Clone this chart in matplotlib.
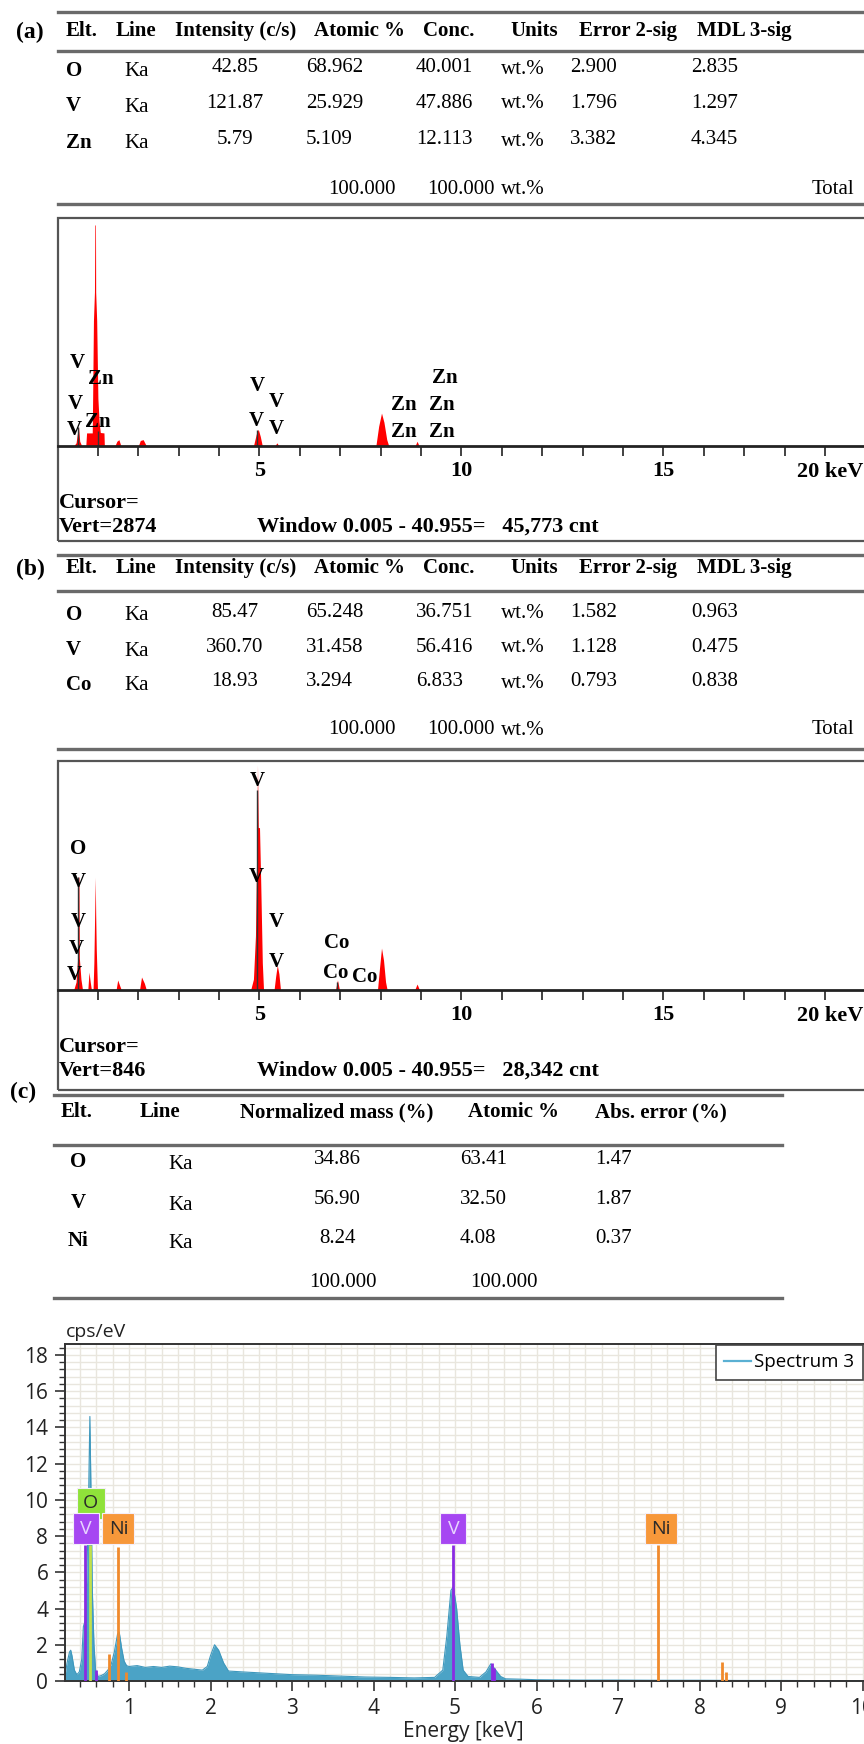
import matplotlib
matplotlib.use('Agg')
import matplotlib.pyplot as plt
from matplotlib.patches import Rectangle
from matplotlib.lines import Line2D
from matplotlib.ticker import MultipleLocator

W, H = 864, 1744
SERIF = 'Liberation Serif'
SANS = 'Open Sans'
plt.rcParams['font.family'] = SANS

# ---------------- table data ----------------
hdr_ab = ['Elt.', 'Line', 'Intensity (c/s)', 'Atomic %', 'Conc.', 'Units', 'Error 2-sig', 'MDL 3-sig']

a_elts = ['O', 'V', 'Zn']
a_lines = ['Ka', 'Ka', 'Ka']
a_intensity = ['42.85', '121.87', '5.79']
a_atomic = ['68.962', '25.929', '5.109']
a_conc = ['40.001', '47.886', '12.113']
a_units = ['wt.%', 'wt.%', 'wt.%']
a_err = ['2.900', '1.796', '3.382']
a_mdl = ['2.835', '1.297', '4.345']

b_elts = ['O', 'V', 'Co']
b_lines = ['Ka', 'Ka', 'Ka']
b_intensity = ['85.47', '360.70', '18.93']
b_atomic = ['65.248', '31.458', '3.294']
b_conc = ['36.751', '56.416', '6.833']
b_units = ['wt.%', 'wt.%', 'wt.%']
b_err = ['1.582', '1.128', '0.793']
b_mdl = ['0.963', '0.475', '0.838']

ab_total = ['100.000', '100.000', 'wt.%', 'Total']

hdr_c = ['Elt.', 'Line', 'Normalized mass (%)', 'Atomic %', 'Abs. error (%)']
c_elts = ['O', 'V', 'Ni']
c_lines = ['Ka', 'Ka', 'Ka']
c_mass = ['34.86', '56.90', '8.24']
c_atomic = ['63.41', '32.50', '4.08']
c_abserr = ['1.47', '1.87', '0.37']
c_total = ['100.000', '100.000']

# ---------------- spectra (a) and (b): keV vs counts ----------------
a_vert = 2874
a_window = 'Window 0.005 - 40.955=   45,773 cnt'
a_energy = [0.40, 0.46, 0.49, 0.52, 0.55, 0.60, 0.70, 0.72, 0.86, 0.87, 0.89, 0.915, 0.925,
            0.94, 0.945, 0.97, 1.00, 1.03, 1.06, 1.15, 1.16, 1.42, 1.47, 1.52, 1.57, 2.00,
            2.05, 2.12, 2.20, 4.85, 4.92, 4.97, 5.02, 5.07, 5.38, 5.43, 5.48, 7.88, 7.95,
            8.02, 8.08, 8.15, 8.20, 8.85, 8.90, 8.95]
a_counts = [0, 40, 150, 240, 60, 0, 0, 165, 165, 600, 1580, 1940, 2786,
            2786, 1940, 1580, 600, 300, 170, 165, 0, 0, 60, 80, 0, 0,
            70, 80, 0, 0, 150, 210, 120, 0, 0, 40, 0, 0, 250,
            415, 300, 80, 0, 0, 60, 0]
a_mark_energy = [0.51, 1.01, 4.95]
a_mark_counts = [240, 190, 200]

b_vert = 846
b_window = 'Window 0.005 - 40.955=   28,342 cnt'
b_energy = [0.40, 0.46, 0.50, 0.51, 0.53, 0.54, 0.58, 0.62, 0.75, 0.78, 0.81, 0.84, 0.88,
            0.90, 0.92, 0.935, 0.945, 0.96, 0.99, 1.45, 1.49, 1.53, 1.58, 2.03, 2.08, 2.15,
            2.20, 4.78, 4.85, 4.90, 4.93, 4.95, 4.97, 5.00, 5.03, 5.07, 5.10, 5.36, 5.40,
            5.44, 5.48, 5.52, 6.88, 6.93, 6.98, 7.92, 7.97, 8.02, 8.07, 8.12, 8.16, 8.84,
            8.90, 8.96]
b_counts = [0, 30, 120, 417, 417, 120, 40, 0, 0, 66, 30, 0, 0,
            100, 280, 417, 280, 150, 0, 0, 37, 20, 0, 0, 48, 25,
            0, 0, 40, 200, 500, 831, 600, 600, 400, 100, 0, 0, 50,
            92, 60, 0, 0, 37, 0, 0, 80, 155, 110, 30, 0, 0,
            22, 0]
b_mark_energy = [0.50, 4.95, 6.93]
b_mark_counts = [417, 740, 30]

# ---------------- spectrum (c): keV vs cps/eV ----------------
c_energy = [0.215, 0.24, 0.27, 0.285, 0.30, 0.33, 0.36, 0.39, 0.42, 0.44, 0.46, 0.48, 0.50,
            0.52, 0.535, 0.55, 0.57, 0.59, 0.62, 0.66, 0.70, 0.74, 0.78, 0.82, 0.86, 0.88,
            0.91, 0.94, 0.97, 1.00, 1.10, 1.20, 1.30, 1.40, 1.50, 1.60, 1.70, 1.80, 1.90,
            1.96, 2.00, 2.05, 2.10, 2.16, 2.22, 2.40, 2.60, 2.80, 3.00, 3.30, 3.60, 3.90,
            4.20, 4.50, 4.75, 4.85, 4.90, 4.95, 4.98, 5.02, 5.06, 5.10, 5.16, 5.30, 5.38,
            5.44, 5.50, 5.56, 5.62, 5.80, 6.00, 6.50, 7.00, 7.50, 8.00, 8.50, 9.00, 9.50, 10.50]
c_cps = [0.3, 1.0, 1.6, 1.7, 1.4, 0.6, 0.35, 0.5, 1.2, 3.0, 3.3, 5.5, 9.0,
         14.6, 10.0, 5.0, 2.0, 0.6, 0.25, 0.3, 0.4, 0.6, 0.9, 1.6, 2.6, 2.7,
         1.8, 1.1, 0.85, 0.8, 0.85, 0.75, 0.8, 0.75, 0.82, 0.78, 0.7, 0.65, 0.6,
         0.8, 1.4, 2.0, 1.7, 1.0, 0.55, 0.5, 0.45, 0.4, 0.35, 0.32, 0.27, 0.22,
         0.2, 0.17, 0.2, 0.6, 2.5, 5.0, 5.2, 4.0, 2.0, 0.6, 0.25, 0.2, 0.5,
         0.95, 0.6, 0.25, 0.12, 0.1, 0.07, 0.05, 0.05, 0.04, 0.04, 0.03, 0.03, 0.02, 0.02]

# element marker lines (element, keV, height in cps/eV)
c_line_elts = ['V', 'O', 'V', 'Ni', 'Ni', 'Ni', 'V', 'V', 'V', 'Ni', 'Ni', 'Ni']
c_line_energy = [0.46, 0.52, 0.60, 0.75, 0.86, 0.96, 4.97, 5.45, 5.48, 7.49, 8.27, 8.33]
c_line_height = [7.5, 7.5, 0.6, 1.5, 7.4, 0.5, 7.5, 1.0, 0.7, 7.5, 1.05, 0.5]
# label boxes (element, centre keV, centre level)
c_box_elts = ['O', 'V', 'Ni', 'V', 'Ni']
c_box_energy = [0.53, 0.47, 0.87, 4.98, 7.53]
c_box_level = [9.8, 8.4, 8.4, 8.4, 8.4]

ELT_COLORS = {'V': '#a647f2', 'O': '#8fe23a', 'Ni': '#f7983a'}
ELT_LINE = {'V': '#8a2be2', 'O': '#c2e04a', 'Ni': '#f08a2c'}
ELT_TEXT = {'V': '#e8d4ff', 'O': '#2a2a2a', 'Ni': '#2a2a2a'}

fig = plt.figure(figsize=(W / 100, H / 100), dpi=100, facecolor='white')


def ftext(x, y, s, **kw):
    kw.setdefault('va', 'center')
    return fig.text(x / W, 1 - y / H, s, **kw)


def hline(x0, x1, y, color='#6a6a6a', lw=2.4):
    fig.add_artist(Line2D([x0 / W, x1 / W], [1 - y / H, 1 - y / H], color=color, lw=lw))


TS = 15  # table font size
serif = dict(family=SERIF, fontsize=TS, color='black')
serif_b = dict(family=SERIF, fontsize=TS, color='black', fontweight='bold')


def draw_ab_table(label, y_top, y_hdr, y_line, rows_y, y_total, y_bot,
                  elts, lines, inten, atomic, conc, units, err, mdl):
    hline(58, 864, y_top)
    hline(58, 864, y_line)
    hline(58, 864, y_bot)
    ftext(30, y_hdr + 1, label, family=SERIF, fontsize=17, fontweight='bold', ha='center')
    for x, h in zip([66, 116, 175, 314, 423, 510, 579, 697], hdr_ab):
        ftext(x, y_hdr, h, ha='left', **serif_b)
    for i, y in enumerate(rows_y):
        ftext(66, y + 3, elts[i], ha='left', **serif_b)
        ftext(124, y + 4, lines[i], ha='left', **serif)
        ftext(235, y, inten[i], ha='center', **serif)
        ftext(306, y, atomic[i], ha='left', **serif)
        ftext(416, y, conc[i], ha='left', **serif)
        ftext(501, y + 1, units[i], ha='left', **serif)
        ftext(570, y, err[i], ha='left', **serif)
        ftext(691, y, mdl[i], ha='left', **serif)
    ftext(328, y_total, ab_total[0], ha='left', **serif)
    ftext(427, y_total, ab_total[1], ha='left', **serif)
    ftext(501, y_total + 1, ab_total[2], ha='left', **serif)
    ftext(854, y_total, ab_total[3], ha='right', **serif)


draw_ab_table('(a)', 12, 31, 51, [68, 103, 140], 189, 204,
              a_elts, a_lines, a_intensity, a_atomic, a_conc, a_units, a_err, a_mdl)
draw_ab_table('(b)', 555, 568, 591, [612, 647, 682], 729, 749,
              b_elts, b_lines, b_intensity, b_atomic, b_conc, b_units, b_err, b_mdl)

SPEC_FS = 16


def draw_ab_spectrum(top, base, bottom, vert, energy, counts, mark_e, mark_c, window):
    kev_px = 40.4
    x0 = 57.5
    right = 900
    ax = fig.add_axes([x0 / W, 1 - bottom / H, (right - x0) / W, (bottom - top) / H])
    k = vert / (base - top)
    ax.set_xlim(0, (right - x0) / kev_px)
    ax.set_ylim(-(bottom - base) * k, vert)
    ax.fill_between(energy, counts, 0, color='#ff0000', lw=0)
    ax.vlines(mark_e, 0, mark_c, colors='#333333', lw=1.0)
    for s in ['top', 'left', 'right']:
        ax.spines[s].set_visible(False)
    ax.spines['bottom'].set_position(('data', 0))
    ax.spines['bottom'].set_color('#222222')
    ax.spines['bottom'].set_linewidth(2)
    ax.add_patch(Rectangle((0, 0), 1, 1, transform=ax.transAxes, fill=False,
                           ec='#555555', lw=1.6, clip_on=False))
    ax.set_yticks([])
    ax.set_xticks([5, 10, 15])
    ax.set_xticklabels(['5', '10', '15'])
    ax.set_xticks(range(1, 21), minor=True)
    ax.tick_params(axis='x', which='both', direction='out', length=7, width=1.3,
                   color='#333333', pad=4)
    for t in ax.get_xticklabels():
        t.set_fontfamily(SERIF)
        t.set_fontweight('bold')
        t.set_fontsize(SPEC_FS)
    bold = dict(family=SERIF, fontsize=SPEC_FS, fontweight='bold', ha='left')
    ftext(797, base + 26, '20 keV', **bold)
    ftext(59, base + 57, 'Cursor=', **bold)
    ftext(59, base + 81, 'Vert=%d' % vert, **bold)
    ftext(257, base + 81, window, **bold)
    return ax


draw_ab_spectrum(218, 446, 541, a_vert, a_energy, a_counts, a_mark_energy, a_mark_counts, a_window)
draw_ab_spectrum(761, 990, 1090, b_vert, b_energy, b_counts, b_mark_energy, b_mark_counts, b_window)

lbl = dict(family=SERIF, fontsize=15, fontweight='bold', ha='center', color='black')
for s, x, y in [('V', 77, 363), ('Zn', 101, 379), ('V', 75, 404), ('Zn', 98, 422), ('V', 74, 430),
                ('V', 257, 386), ('V', 276, 402), ('V', 256, 421), ('V', 276, 429),
                ('Zn', 404, 405), ('Zn', 404, 432), ('Zn', 445, 378), ('Zn', 442, 405),
                ('Zn', 442, 432)]:
    ftext(x, y, s, **lbl)
for s, x, y in [('V', 257, 781), ('V', 256, 877), ('O', 78, 849), ('V', 78, 882), ('V', 78, 922),
                ('V', 76, 949), ('V', 74, 975), ('V', 276, 922), ('V', 276, 962),
                ('Co', 337, 943), ('Co', 336, 973), ('Co', 365, 977)]:
    ftext(x, y, s, **lbl)

# ---------------- table (c) ----------------
hline(54, 782, 1095)
hline(54, 782, 1145)
hline(54, 782, 1298)
ftext(23, 1092, '(c)', family=SERIF, fontsize=17, fontweight='bold', ha='center')
for x, h in zip([61, 140, 240, 468, 595], hdr_c):
    ftext(x, 1112, h, ha='left', **serif_b)
for i, y in enumerate([1159, 1200, 1238]):
    ftext(78, y + 3, c_elts[i], ha='center', **serif_b)
    ftext(168, y + 5, c_lines[i], ha='left', **serif)
    ftext(337, y, c_mass[i], ha='center', **serif)
    ftext(460, y, c_atomic[i], ha='left', **serif)
    ftext(595, y, c_abserr[i], ha='left', **serif)
ftext(343, 1282, c_total[0], ha='center', **serif)
ftext(504, 1282, c_total[1], ha='center', **serif)

# ---------------- spectrum (c) ----------------
kev0, kev_px = 47.5, 81.5
left, right, top, base = 65, 903, 1344, 1681
axc = fig.add_axes([left / W, 1 - base / H, (right - left) / W, (base - top) / H])
axc.set_xlim((left - kev0) / kev_px, (right - kev0) / kev_px)
axc.set_ylim(0, 18.6)
axc.set_axisbelow(True)
axc.xaxis.set_major_locator(MultipleLocator(1))
axc.xaxis.set_minor_locator(MultipleLocator(0.2))
axc.yaxis.set_major_locator(MultipleLocator(2))
axc.yaxis.set_minor_locator(MultipleLocator(0.4))
axc.grid(which='both', color='#e9e6de', lw=1.0)
axc.fill_between(c_energy, c_cps, 0, color='#4ba3c6', lw=0, zorder=2)
spec_line, = axc.plot(c_energy, c_cps, color='#3f98bd', lw=0.8, zorder=2, label='Spectrum 3')

for e, x, h in zip(c_line_elts, c_line_energy, c_line_height):
    axc.vlines(x, 0, h, colors=ELT_LINE[e], lw=2.0, zorder=3)

bw_px = {'V': 26, 'O': 28, 'Ni': 32}
bh = 31 / 18.11
for e, x, y in zip(c_box_elts, c_box_energy, c_box_level):
    bw = bw_px[e] / kev_px
    axc.add_patch(Rectangle((x - bw / 2, y - bh / 2), bw, bh, fc=ELT_COLORS[e],
                            ec='#f4eefa', lw=0.8, zorder=4))
    axc.text(x, y, e, ha='center', va='center', fontsize=14, color=ELT_TEXT[e], zorder=5)

for s in ['top', 'left', 'bottom', 'right']:
    axc.spines[s].set_color('#333333')
    axc.spines[s].set_linewidth(1.4)
axc.tick_params(which='major', direction='out', length=7, width=1.2, color='#333333',
                labelsize=15, labelcolor='#222222', pad=5)
axc.tick_params(which='minor', direction='out', length=4, width=1.0, color='#333333')

leg = axc.legend(handles=[spec_line], loc='upper left', bbox_to_anchor=(716 / W, 1 - 1345 / H),
                 bbox_transform=fig.transFigure, fancybox=False, framealpha=1,
                 edgecolor='#444444', borderaxespad=0, borderpad=0.45, handlelength=1.4,
                 handletextpad=0.2, fontsize=13.5)
leg.get_frame().set_linewidth(1.2)
leg.get_lines()[0].set_color('#5ab0d3')
leg.get_lines()[0].set_linewidth(1.6)

ftext(66, 1332, 'cps/eV', ha='left', fontsize=14, color='#222222')
ftext(463, 1731, 'Energy [keV]', ha='center', fontsize=15, color='#222222')

fig.savefig('out.png', dpi=100, facecolor='white')
